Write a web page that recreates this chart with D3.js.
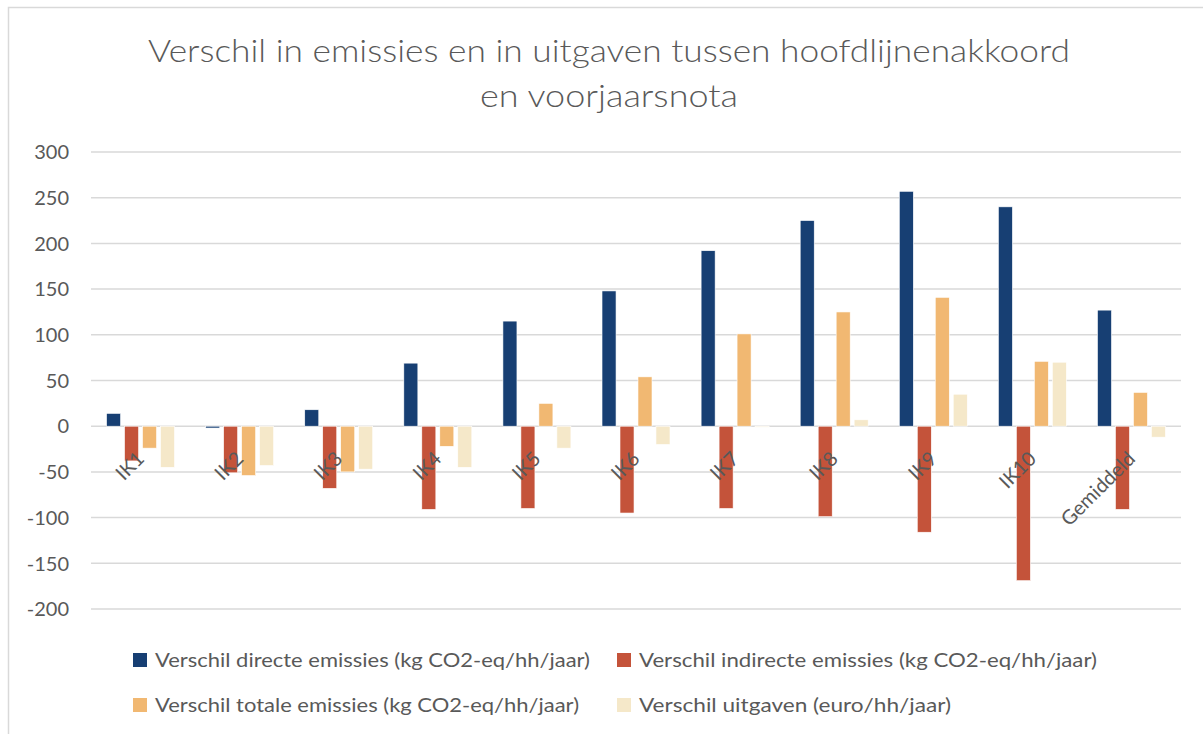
<!DOCTYPE html>
<html>
<head>
<meta charset="utf-8">
<script src="https://cdn.jsdelivr.net/npm/d3@7"></script>
<style>
  body { margin: 0; background: #fff; }
  text { font-family: Lato, "Open Sans", sans-serif; fill: #595959; }
</style>
</head>
<body>
<svg id="chart" width="1203" height="734"></svg>
<script>
// categories + series
var categories = ["IK1", "IK2", "IK3", "IK4", "IK5", "IK6", "IK7", "IK8", "IK9", "IK10", "Gemiddeld"];
var seriesNames = [
  "Verschil directe emissies (kg CO2-eq/hh/jaar)",
  "Verschil indirecte emissies (kg CO2-eq/hh/jaar)",
  "Verschil totale emissies (kg CO2-eq/hh/jaar)",
  "Verschil uitgaven (euro/hh/jaar)"
];
var direct   = [14, -2, 18, 69, 115, 148, 192, 225, 257, 240, 127];
var indirect = [-38, -51, -68, -91, -90, -95, -90, -99, -116, -169, -91];
var totaal   = [-24, -54, -50, -22, 25, 54, 101, 125, 141, 71, 37];
var uitgaven = [-45, -43, -47, -45, -24, -20, -1, 7, 35, 70, -12];
var yTicks = [300, 250, 200, 150, 100, 50, 0, -50, -100, -150, -200];
var colors = ["#173f73", "#c4533a", "#f1b872", "#f5e8c9"];

var seriesValues = [direct, indirect, totaal, uitgaven];

var svg = d3.select("#chart");

// chart frame
svg.append("rect")
  .attr("x", 8.5).attr("y", 7.5)
  .attr("width", 1210).attr("height", 740)
  .attr("fill", "#fff").attr("stroke", "#d9d9d9").attr("stroke-width", 1.5);

// title
var title = svg.append("text")
  .attr("text-anchor", "middle")
  .style("font-size", "32px")
  .style("font-weight", 300);
title.append("tspan").attr("x", 609).attr("y", 62)
  .attr("textLength", 922).attr("lengthAdjust", "spacingAndGlyphs")
  .text("Verschil in emissies en in uitgaven tussen hoofdlijnenakkoord");
title.append("tspan").attr("x", 609).attr("y", 107)
  .attr("textLength", 258).attr("lengthAdjust", "spacingAndGlyphs")
  .text("en voorjaarsnota");

var left = 91, right = 1181;

var y = d3.scaleLinear().domain([-200, 300]).range([609, 152]);
var x0 = d3.scaleBand().domain(categories).range([left, right])
  .paddingInner(0.314).paddingOuter(0.157);
var x1 = d3.scaleBand().domain(d3.range(4)).range([0, x0.bandwidth()])
  .paddingInner(0.22).paddingOuter(0);

// gridlines
svg.append("g").selectAll("line")
  .data(yTicks).enter().append("line")
  .attr("x1", left).attr("x2", right)
  .attr("y1", function(d) { return y(d); })
  .attr("y2", function(d) { return y(d); })
  .attr("stroke", "#d9d9d9").attr("stroke-width", 1.5);

// y axis labels
svg.append("g").selectAll("text")
  .data(yTicks).enter().append("text")
  .attr("x", 69)
  .attr("y", function(d) { return y(d); })
  .attr("dy", "0.36em")
  .attr("text-anchor", "end")
  .style("font-size", "20px")
  .text(function(d) { return d; });

// bars
var groups = svg.append("g").selectAll("g")
  .data(categories).enter().append("g")
  .attr("transform", function(d) { return "translate(" + x0(d) + ",0)"; });

groups.selectAll("rect")
  .data(function(d, i) {
    return seriesValues.map(function(s, k) { return {k: k, v: s[i]}; });
  })
  .enter().append("rect")
  .attr("x", function(d) { return x1(d.k); })
  .attr("width", x1.bandwidth())
  .attr("y", function(d) { return y(Math.max(0, d.v)); })
  .attr("height", function(d) { return Math.abs(y(d.v) - y(0)); })
  .attr("fill", function(d) { return colors[d.k]; })
  .attr("stroke", "#fff").attr("stroke-width", 0.6);

// category labels, rotated
svg.append("g").selectAll("text")
  .data(categories).enter().append("text")
  .attr("text-anchor", "end")
  .attr("transform", function(d) {
    var cx = x0(d) + x0.bandwidth() / 2;
    return "translate(" + (cx + 5) + ",460) rotate(-45)";
  })
  .style("font-size", "20px")
  .text(function(d) { return d; });

// legend
var legendPos = [[133, 660, 435], [617, 660, 458], [133, 705, 424], [617, 705, 312]];
var legend = svg.append("g").selectAll("g")
  .data(seriesNames).enter().append("g")
  .attr("transform", function(d, i) { return "translate(" + legendPos[i][0] + "," + legendPos[i][1] + ")"; });
legend.append("rect")
  .attr("x", 0).attr("y", -7).attr("width", 14).attr("height", 14)
  .attr("fill", function(d, i) { return colors[i]; });
legend.append("text")
  .attr("x", 22).attr("dy", "0.36em")
  .attr("textLength", function(d, i) { return legendPos[i][2]; })
  .attr("lengthAdjust", "spacingAndGlyphs")
  .style("font-size", "19px")
  .text(function(d) { return d; });
</script>
</body>
</html>
